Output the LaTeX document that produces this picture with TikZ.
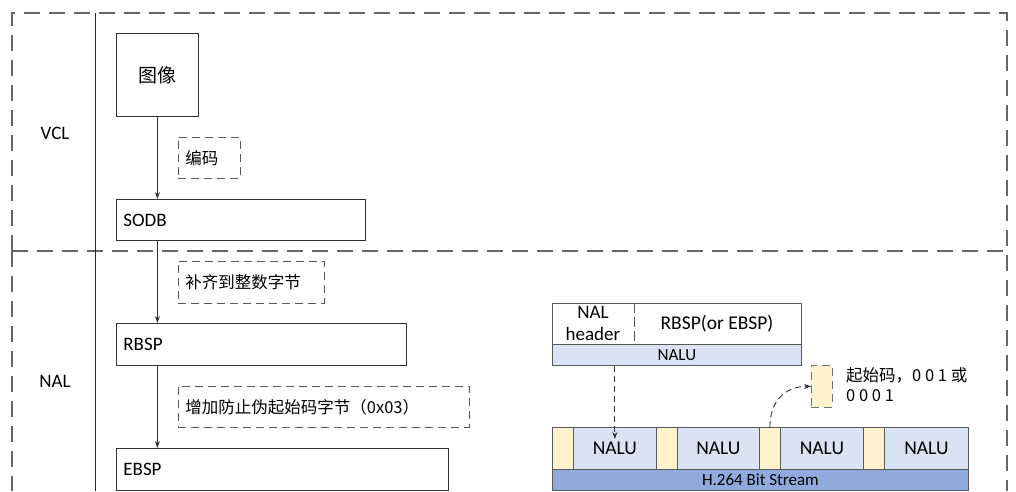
\documentclass[tikz,border=0pt]{standalone}
\usepackage{fontspec}
\setmainfont{Carlito}
\newfontfamily\cjk{Noto Sans CJK SC}
\usetikzlibrary{arrows.meta,calc}
\definecolor{lblue}{HTML}{DAE3F3}
\definecolor{mblue}{HTML}{8FAADC}
\definecolor{cream}{HTML}{FFF2CC}
\definecolor{edge}{HTML}{595959}
\tikzset{
  blk/.style={draw=black!80, line width=0.8pt, anchor=north west, inner xsep=7pt, inner ysep=0pt, align=left, font=\fontsize{19}{22}\selectfont},
  note/.style={draw=black!65, line width=0.9pt, dash pattern=on 8pt off 5pt, anchor=north west, inner xsep=7pt, inner ysep=0pt, align=left, font=\cjk\fontsize{16.5}{20}\selectfont},
  cell/.style={draw=edge, line width=0.8pt, anchor=north west, inner sep=0pt, font=\fontsize{19.5}{22}\selectfont},
  outer/.style={draw=black!60, line width=1.2pt, dash pattern=on 16pt off 9pt},
  arr/.style={draw=black!80, line width=0.8pt, -{Stealth[length=7pt,width=5pt]}},
  darr/.style={draw=black!80, line width=0.9pt, dash pattern=on 6pt off 4pt, -{Stealth[length=7pt,width=5pt]}},
  lbl/.style={font=\fontsize{19}{22}\selectfont}
}
\begin{document}
\begin{tikzpicture}[x=1pt,y=-1pt]
\useasboundingbox (0,0) rectangle (1016,491);
% outer frames
\draw[outer] (12,251) -- (12,13) -- (1007,13) -- (1007,491);
\draw[outer] (12,251) -- (1007,251);
\draw[outer] (12,251) -- (12,491);
\draw[black!85, line width=0.8pt] (95,13) -- (95,491);
\node[lbl] (vcl) at (55,133) {VCL};
\node[lbl] (nal) at (55,381) {NAL};
% left flow
\node[blk, minimum width=82pt, minimum height=83pt, align=center, font=\cjk\fontsize{19}{22}\selectfont] (img) at (116,33) {图像};
\node[blk, text width=235pt, minimum height=41pt] (sodb) at (116,199) {SODB};
\node[blk, text width=276pt, minimum height=42pt] (rbsp) at (116,323) {RBSP};
\node[blk, text width=318pt, minimum height=42pt] (ebsp) at (116,448) {EBSP};
\node[note, text width=48pt, minimum height=41pt] (n1) at (178,137) {编码};
\node[note, text width=132pt, minimum height=42pt] (n2) at (178,261) {补齐到整数字节};
\node[note, text width=277pt, minimum height=41pt] (n3) at (178,386) {增加防止伪起始码字节（0x03）};
\draw[arr] (img.south) -- (img.south |- sodb.north);
\draw[arr] (img.south |- sodb.south) -- (img.south |- rbsp.north);
\draw[arr] (img.south |- rbsp.south) -- (img.south |- ebsp.north);
% NALU structure
\node[cell, minimum width=249pt, minimum height=41pt] (ntop) at (552,303) {};
\node[anchor=center, inner sep=0pt, align=center, font=\fontsize{19}{22}\selectfont] (hdr) at (593,323.5) {NAL\\header};
\node[anchor=center, inner sep=0pt, font=\fontsize{19.5}{22}\selectfont] (rb) at (717,323.5) {RBSP(or EBSP)};
\draw[edge, line width=0.8pt, dash pattern=on 10pt off 4pt] (ntop.north west) ++(82,0) coordinate (dv1) -- ($(dv1)+(0,41)$);
\node[cell, fill=lblue, minimum width=249pt, minimum height=21pt, font=\fontsize{17}{20}\selectfont] (band1) at (552,344) {NALU};
% bit stream
\node[cell, fill=cream, minimum width=21pt, minimum height=42pt] (c1) at (552,427) {};
\node[cell, fill=lblue, minimum width=83pt, minimum height=42pt] (u1) at (573,427) {NALU};
\node[cell, fill=cream, minimum width=21pt, minimum height=42pt] (c2) at (656,427) {};
\node[cell, fill=lblue, minimum width=82pt, minimum height=42pt] (u2) at (677,427) {NALU};
\node[cell, fill=cream, minimum width=21pt, minimum height=42pt] (c3) at (759,427) {};
\node[cell, fill=lblue, minimum width=83pt, minimum height=42pt] (u3) at (780,427) {NALU};
\node[cell, fill=cream, minimum width=21pt, minimum height=42pt] (c4) at (863,427) {};
\node[cell, fill=lblue, minimum width=84pt, minimum height=42pt] (u4) at (884,427) {NALU};
\node[cell, fill=mblue, minimum width=416pt, minimum height=21pt, font=\fontsize{17}{20}\selectfont] (band2) at (552,469) {H.264 Bit Stream};
% legend
\node[cell, fill=cream, draw=black!55, dash pattern=on 8pt off 5pt, minimum width=21pt, minimum height=42pt] (leg) at (811,365) {};
\node[anchor=north west, align=left, inner sep=0pt, font=\cjk\fontsize{16.5}{20}\selectfont] (legtxt) at (846,367) {起始码，0 0 1 或\\0 0 0 1};
% dashed arrows
\coordinate (t1) at ($(u1.north)+(0,12)$);
\draw[darr] (band1.south -| u1.north) -- (t1);
\draw[darr] (c3.north) .. controls ($(c3.north)+(0,-26)$) and ($(leg.west)+(-26,0)$) .. (leg.west);
\end{tikzpicture}
\end{document}
